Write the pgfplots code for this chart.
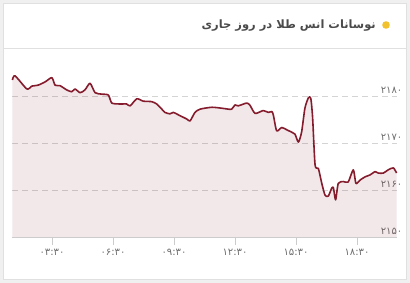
\documentclass[border=0pt]{standalone}
\usepackage{fontspec}
\usepackage{pgfplots}
\usepackage{pgfplotstable}
\pgfplotsset{compat=1.18}
\TeXXeTstate=1
\newfontfamily\arabicfont[Script=Arabic]{DejaVu Sans}
\definecolor{linec}{RGB}{132,28,45}
\definecolor{titlec}{RGB}{75,75,75}
\definecolor{labc}{RGB}{110,110,110}
\definecolor{dotc}{RGB}{242,193,46}
\pgfplotstableread{
h v
1.55 2183.4
1.68 2184.3
2.26 2181.5
2.50 2182.1
2.81 2182.3
3.16 2183.0
3.49 2183.9
3.65 2182.3
3.89 2182.2
4.22 2181.3
4.47 2180.9
4.63 2181.5
4.88 2180.7
5.12 2181.3
5.37 2182.7
5.62 2180.7
5.94 2180.4
6.27 2180.2
6.44 2178.5
6.84 2178.3
7.17 2178.3
7.34 2177.9
7.67 2179.4
7.99 2178.9
8.40 2178.8
8.65 2178.3
8.90 2177.2
9.06 2176.5
9.30 2176.2
9.47 2176.5
9.80 2175.8
10.13 2175.1
10.29 2174.7
10.53 2176.5
10.78 2177.2
11.36 2177.6
11.85 2177.4
12.17 2177.2
12.34 2177.2
12.50 2178.1
12.66 2177.9
13.08 2178.5
13.24 2178.0
13.49 2176.3
13.89 2176.9
14.14 2176.5
14.31 2176.7
14.39 2175.9
14.55 2172.6
14.80 2173.3
15.05 2172.8
15.29 2172.3
15.45 2171.9
15.62 2170.2
15.78 2172.4
15.94 2177.4
16.11 2179.6
16.23 2179.5
16.32 2175.3
16.44 2165.3
16.60 2164.6
16.77 2161.4
16.93 2158.9
17.09 2158.7
17.26 2160.4
17.34 2160.5
17.45 2157.9
17.58 2161.4
17.83 2161.8
18.07 2161.7
18.32 2164.3
18.45 2161.4
18.65 2162.1
18.90 2162.8
19.14 2163.2
19.39 2163.9
19.55 2163.6
19.80 2163.6
20.04 2164.3
20.29 2164.7
20.45 2163.6
}\gold
\begin{document}
\begin{tikzpicture}
\fill[black!6] (0pt,0pt) rectangle (410pt,283pt);
\filldraw[fill=white, draw=black!12] (3pt,4pt) rectangle (406pt,280pt);
\draw[black!12] (3pt,235pt) -- (406pt,235pt);
\fill[dotc] (386pt,258pt) circle (3.8pt);
\node[anchor=east, inner sep=0pt, text=titlec, font=\arabicfont\bfseries\fontsize{11.5}{13}\selectfont] at (376pt,257.5pt) {\beginR نوسانات انس طلا در روز جاری\endR};
\begin{axis}[
  at={(12pt,46pt)}, anchor=south west,
  scale only axis, width=385pt, height=169.2pt,
  xmin=1.53, xmax=20.47, ymin=2150, ymax=2186,
  axis x line*=bottom, axis y line*=right,
  x axis line style={draw=black!20},
  y axis line style={draw=none},
  xtick={3.5,6.5,9.5,12.5,15.5,18.5},
  xticklabels={۰۳:۳۰,۰۶:۳۰,۰۹:۳۰,۱۲:۳۰,۱۵:۳۰,۱۸:۳۰},
  ytick={2150,2160,2170,2180},
  yticklabels={۲۱۵۰,۲۱۶۰,۲۱۷۰,۲۱۸۰},
  xtick style={draw=black!20, line width=0.6pt},
  ytick style={draw=none},
  tick align=outside,
  x tick label style={font=\arabicfont\fontsize{10}{12}\selectfont, text=labc, yshift=-1pt},
  major tick length=8pt,
  y tick label style={font=\arabicfont\fontsize{10}{12}\selectfont, text=labc, anchor=south east, inner sep=1pt, xshift=-1.5pt, yshift=1.5pt},
  ymajorgrids,
  major grid style={draw=black!17, dash pattern=on 6pt off 4pt, line width=0.6pt},
  clip=false,
]
\addplot[draw=none, fill=linec, fill opacity=0.1, smooth, tension=0.4] table[x=h,y=v]{\gold} \closedcycle;
\addplot[draw=linec, line width=1.6pt, smooth, tension=0.4, line join=round] table[x=h,y=v]{\gold};
\end{axis}
\end{tikzpicture}
\end{document}
